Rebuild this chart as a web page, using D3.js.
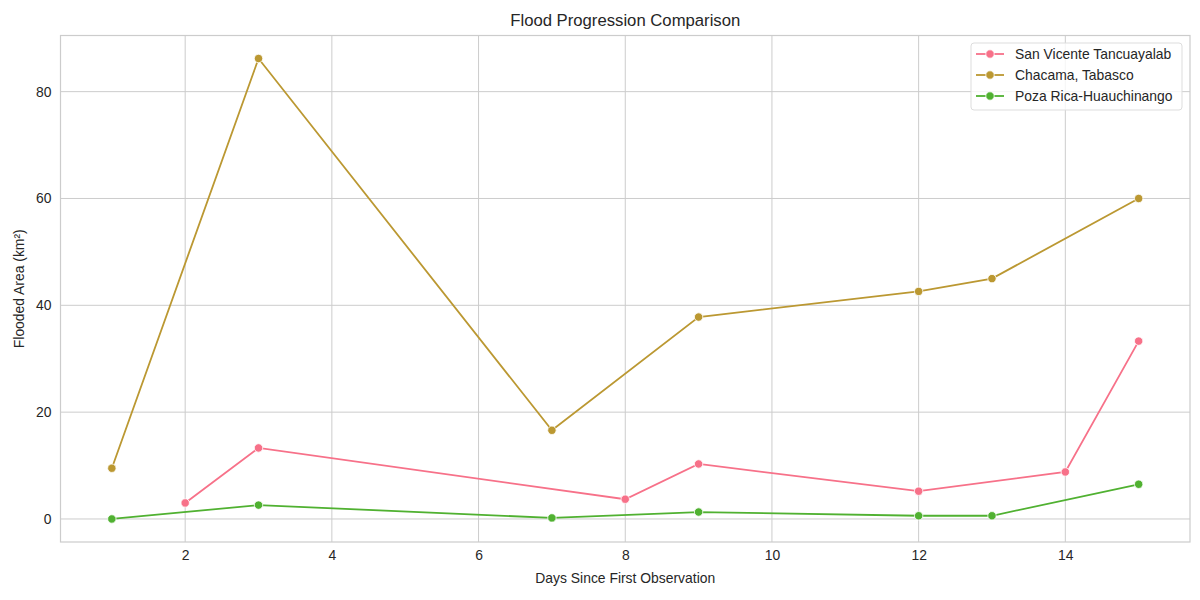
<!DOCTYPE html>
<html>
<head>
<meta charset="utf-8">
<script src="https://cdn.jsdelivr.net/npm/d3@7"></script>
<style>
 body { margin: 0; background: white; }
 text { font-family: Arial, "Liberation Sans", sans-serif; }
</style>
</head>
<body>
<div id="chart"></div>
<script>
var width = 1200;
var height = 600;

// data
var seriesNames = ["San Vicente Tancuayalab", "Chacama, Tabasco", "Poza Rica-Huauchinango"];
var colors = ["#f77189", "#bb9832", "#50b131"];
var sanVicenteDays = [2, 3, 8, 9, 12, 14, 15];
var sanVicenteArea = [3.0, 13.3, 3.7, 10.3, 5.2, 8.8, 33.3];
var chacamaDays = [1, 3, 7, 9, 12, 13, 15];
var chacamaArea = [9.5, 86.2, 16.6, 37.8, 42.6, 45.0, 60.0];
var pozaDays = [1, 3, 7, 9, 12, 13, 15];
var pozaArea = [0.0, 2.6, 0.2, 1.3, 0.6, 0.6, 6.5];
var xTicks = [2, 4, 6, 8, 10, 12, 14];
var yTicks = [0, 20, 40, 60, 80];

var margin = {left: 60.5, right: 10, top: 35.5, bottom: 58};
var fs = "13.9px";

var svg = d3.select("#chart")
  .append("svg")
  .attr("width", width)
  .attr("height", height);

var x = d3.scaleLinear()
  .domain([0.3, 15.7])
  .range([margin.left, width - margin.right]);
var y = d3.scaleLinear()
  .domain([-4.31, 90.51])
  .range([height - margin.bottom, margin.top]);

// grid
svg.append("g").selectAll("line")
  .data(xTicks).enter().append("line")
  .attr("x1", d => x(d)).attr("x2", d => x(d))
  .attr("y1", margin.top).attr("y2", height - margin.bottom)
  .style("stroke", "#cccccc").style("stroke-width", 1);
svg.append("g").selectAll("line")
  .data(yTicks).enter().append("line")
  .attr("x1", margin.left).attr("x2", width - margin.right)
  .attr("y1", d => y(d)).attr("y2", d => y(d))
  .style("stroke", "#cccccc").style("stroke-width", 1);

// frame
svg.append("rect")
  .attr("x", margin.left)
  .attr("y", margin.top)
  .attr("width", width - margin.right - margin.left)
  .attr("height", height - margin.bottom - margin.top)
  .style("fill", "none")
  .style("stroke", "#cccccc")
  .style("stroke-width", 1.2);

// axes
var xAxis = d3.axisBottom(x).tickValues(xTicks).tickSize(0).tickPadding(8);
var gx = svg.append("g")
  .attr("transform", "translate(0," + (height - margin.bottom) + ")")
  .call(xAxis);
gx.select(".domain").remove();
gx.selectAll("text").style("font-size", fs).style("fill", "#262626");

var yAxis = d3.axisLeft(y).tickValues(yTicks).tickSize(0).tickPadding(9);
var gy = svg.append("g")
  .attr("transform", "translate(" + margin.left + ",0)")
  .call(yAxis);
gy.select(".domain").remove();
gy.selectAll("text").style("font-size", fs).style("fill", "#262626");

// labels
svg.append("text")
  .attr("x", (margin.left + width - margin.right) / 2)
  .attr("y", 26)
  .attr("text-anchor", "middle")
  .style("font-size", "16.7px")
  .style("fill", "#262626")
  .text("Flood Progression Comparison");
svg.append("text")
  .attr("x", (margin.left + width - margin.right) / 2)
  .attr("y", 583)
  .attr("text-anchor", "middle")
  .style("font-size", fs)
  .style("fill", "#262626")
  .text("Days Since First Observation");
svg.append("text")
  .attr("transform", "translate(24," + ((margin.top + height - margin.bottom) / 2) + ") rotate(-90)")
  .attr("text-anchor", "middle")
  .style("font-size", fs)
  .style("fill", "#262626")
  .text("Flooded Area (km²)");

// series
var series = [
  {days: sanVicenteDays, area: sanVicenteArea},
  {days: chacamaDays, area: chacamaArea},
  {days: pozaDays, area: pozaArea}
];

var line = d3.line()
  .x(d => x(d[0]))
  .y(d => y(d[1]));

series.forEach(function (s, i) {
  var pts = s.days.map((d, j) => [d, s.area[j]]);
  svg.append("path")
    .datum(pts)
    .attr("d", line)
    .style("fill", "none")
    .style("stroke", colors[i])
    .style("stroke-width", 1.8);
  svg.append("g").selectAll("circle")
    .data(pts).enter().append("circle")
    .attr("cx", d => x(d[0]))
    .attr("cy", d => y(d[1]))
    .attr("r", 4.2)
    .style("fill", colors[i])
    .style("stroke", "white")
    .style("stroke-width", 0.8);
});

// legend
var lg = svg.append("g").attr("transform", "translate(971,43)");
lg.append("rect")
  .attr("width", 211)
  .attr("height", 67)
  .attr("rx", 3)
  .style("fill", "white")
  .style("fill-opacity", 0.8)
  .style("stroke", "#dddddd");
seriesNames.forEach(function (name, i) {
  var yy = 11 + i * 21;
  lg.append("line")
    .attr("x1", 5).attr("x2", 33)
    .attr("y1", yy).attr("y2", yy)
    .style("stroke", colors[i]).style("stroke-width", 1.8);
  lg.append("circle")
    .attr("cx", 19).attr("cy", yy).attr("r", 4.2)
    .style("fill", colors[i]).style("stroke", "white").style("stroke-width", 0.8);
  lg.append("text")
    .attr("x", 44).attr("y", yy + 5)
    .style("font-size", fs)
    .style("fill", "#262626")
    .text(name);
});
</script>
</body>
</html>
